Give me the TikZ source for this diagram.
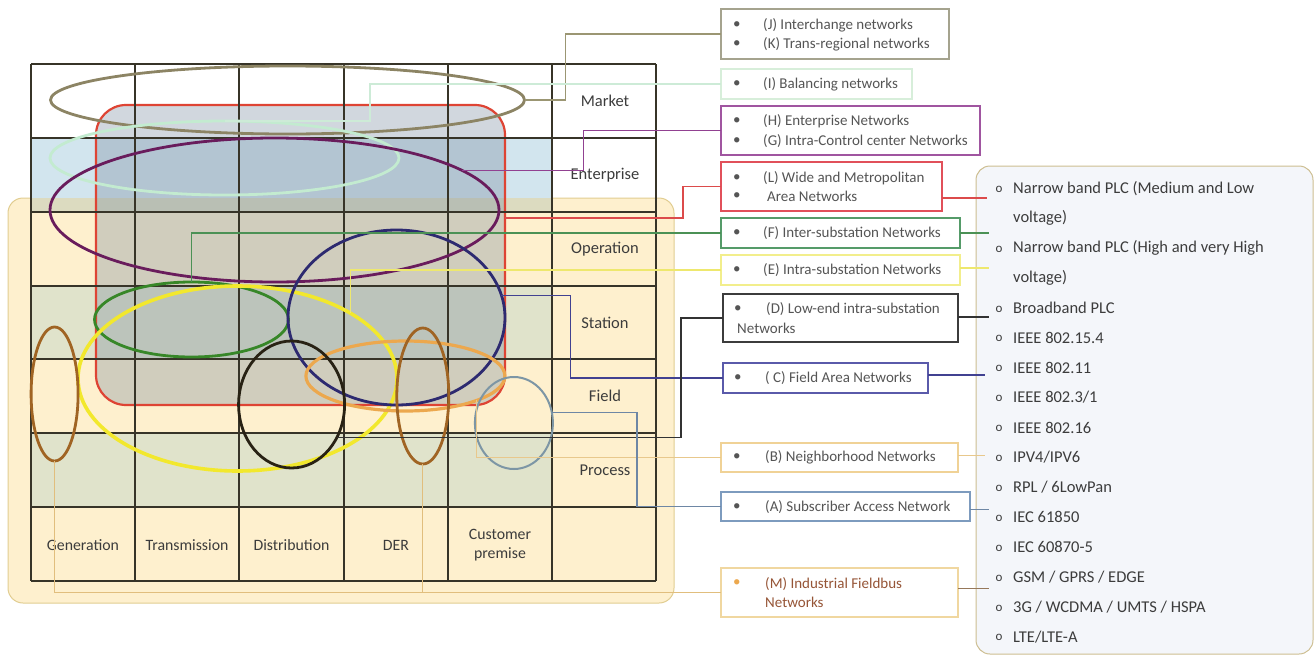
\documentclass[tikz,border=0pt]{standalone}
\usepackage{fontspec}
\setmainfont{Carlito}
\usetikzlibrary{shapes.geometric,calc}
\definecolor{beige}{RGB}{254,240,206}
\definecolor{beigeedge}{RGB}{225,205,145}
\definecolor{entblue}{RGB}{210,229,238}
\definecolor{entolive}{RGB}{220,219,192}
\definecolor{greentint}{RGB}{224,227,203}
\definecolor{redfill}{RGB}{120,138,158}
\definecolor{rededge}{RGB}{222,68,52}
\definecolor{gridc}{RGB}{55,52,40}
\definecolor{lbl}{RGB}{60,60,60}
\definecolor{txt}{RGB}{85,85,85}
\definecolor{txtM}{RGB}{150,85,55}
\definecolor{colJK}{RGB}{140,132,100}
\definecolor{colI}{RGB}{195,235,208}
\definecolor{colHG}{RGB}{105,28,92}
\definecolor{colF}{RGB}{55,135,40}
\definecolor{colE}{RGB}{242,232,45}
\definecolor{colC}{RGB}{45,42,112}
\definecolor{colD}{RGB}{40,34,20}
\definecolor{colB}{RGB}{236,168,78}
\definecolor{colM}{RGB}{160,100,35}
\definecolor{colA}{RGB}{125,150,165}
\definecolor{bdJK}{RGB}{165,163,142}
\definecolor{bdI}{RGB}{215,238,218}
\definecolor{bdHG}{RGB}{160,85,160}
\definecolor{bdL}{RGB}{225,80,90}
\definecolor{bdF}{RGB}{85,155,105}
\definecolor{bdE}{RGB}{242,238,140}
\definecolor{bdD}{RGB}{60,60,60}
\definecolor{bdC}{RGB}{90,90,170}
\definecolor{bdB}{RGB}{240,210,150}
\definecolor{bdA}{RGB}{125,155,190}
\definecolor{bdM}{RGB}{240,215,160}
\definecolor{kJK}{RGB}{155,150,115}
\definecolor{kI}{RGB}{205,235,215}
\definecolor{kHG}{RGB}{145,65,145}
\definecolor{kL}{RGB}{220,75,75}
\definecolor{kF}{RGB}{75,145,85}
\definecolor{kE}{RGB}{238,232,110}
\definecolor{kD}{RGB}{50,50,50}
\definecolor{kC}{RGB}{65,65,145}
\definecolor{kB}{RGB}{232,200,140}
\definecolor{kA}{RGB}{110,135,165}
\definecolor{kM}{RGB}{225,190,125}
\definecolor{kMr}{RGB}{150,120,90}
\definecolor{listfill}{RGB}{244,246,250}
\definecolor{listedge}{RGB}{205,190,145}
\begin{document}
\begin{tikzpicture}[x=1pt,y=-1pt,
  ell/.style={ellipse, inner sep=0pt, outer sep=0pt, line width=2.8pt},
  lbox/.style={rectangle, inner sep=0pt, outer sep=0pt, line width=1.2pt, fill=white},
  ltxt/.style={anchor=west, inner sep=0pt, text=txt, font=\fontsize{15}{17}\selectfont},
  rowlbl/.style={inner sep=0pt, text=lbl, font=\fontsize{16.5}{18}\selectfont},
  collbl/.style={inner sep=0pt, text=lbl, align=center, font=\fontsize{15.8}{19}\selectfont},
  gridln/.style={draw=gridc, line width=1.3pt},
  conn/.style={line width=1.2pt},
  litem/.style={anchor=west, inner sep=0pt, text=lbl, font=\fontsize{16.5}{18}\selectfont},
  lbul/.style={inner sep=0pt, text=lbl, font=\fontsize{13}{15}\selectfont}]
\useasboundingbox (0,0) rectangle (1314,656);
% background areas
\node[rectangle, rounded corners=15pt, minimum width=666pt, minimum height=405pt, fill=beige, draw=beigeedge, line width=1pt, inner sep=0pt] (bg) at (341,400.5) {};
\fill[entblue] (31,138) rectangle (552,198);
\fill[entolive] (31,198) rectangle (552,212);
\fill[greentint] (31,286) rectangle (552,359);
\fill[greentint] (31,433) rectangle (552,507);
% red rounded rectangle (L)
\node[rectangle, rounded corners=30pt, minimum width=409pt, minimum height=300pt, inner sep=0pt, outer sep=0pt, fill=redfill, fill opacity=0.34, draw=rededge, draw opacity=1, line width=2.2pt] (R) at (300.5,255) {};
% grid
\foreach \x in {31,135,239,344,448,552,656} \draw[gridln] (\x,64) -- (\x,581);
\foreach \y in {64,138,212,286,359,433,507,581} \draw[gridln] (31,\y) -- (656,\y);
% row labels
\node[rowlbl] (rMarket) at (605,101) {Market};
\node[rowlbl] (rEnterprise) at (605,175) {Enterprise};
\node[rowlbl] (rOperation) at (605,249) {Operation};
\node[rowlbl] (rStation) at (605,323) {Station};
\node[rowlbl] (rField) at (605,396) {Field};
\node[rowlbl] (rProcess) at (605,470) {Process};
% column labels
\node[collbl] (cGen) at (83,545) {Generation};
\node[collbl] (cTra) at (187,545) {Transmission};
\node[collbl] (cDis) at (291.5,545) {Distribution};
\node[collbl] (cDER) at (396,545) {DER};
\node[collbl] (cCus) at (500,545) {Customer\\premise};
% ellipses
\node[ell, draw=colJK, minimum width=474pt, minimum height=68pt] (JK) at (287.5,100) {};
\node[ell, draw=colI, minimum width=349pt, minimum height=74pt] (I) at (224.5,158) {};
\node[ell, draw=colHG, minimum width=449pt, minimum height=144pt] (HG) at (274.5,210) {};
\node[ell, draw=colF, minimum width=194pt, minimum height=75pt] (F) at (191.5,319.5) {};
\node[ell, draw=colE, line width=3.6pt, minimum width=319pt, minimum height=185pt] (E) at (237.5,378.5) {};
\node[ell, draw=colC, minimum width=217pt, minimum height=175pt] (C) at (396.5,317.5) {};
\node[ell, draw=colB, line width=3.2pt, minimum width=199pt, minimum height=70pt] (B) at (405.4,376) {};
\node[ell, draw=colD, minimum width=106pt, minimum height=127pt] (D) at (291.6,404.5) {};
\node[ell, draw=colM, minimum width=47pt, minimum height=134pt] (M1) at (54.6,394) {};
\node[ell, draw=colM, minimum width=52pt, minimum height=136pt] (M2) at (422.8,396) {};
\node[ell, draw=colA, line width=2pt, minimum width=78pt, minimum height=92pt] (A) at (513.9,423) {};
% legend boxes
\node[lbox, draw=bdJK, minimum width=228pt, minimum height=50pt] (bJK) at (835,34) {};
\node[lbox, draw=bdI, minimum width=191pt, minimum height=30pt] (bI) at (816.5,84) {};
\node[lbox, draw=bdHG, minimum width=259pt, minimum height=49pt] (bHG) at (850.5,130.5) {};
\node[lbox, draw=bdL, minimum width=221pt, minimum height=49pt] (bL) at (831.5,186.5) {};
\node[lbox, draw=bdF, minimum width=239pt, minimum height=30pt] (bF) at (840.5,233) {};
\node[lbox, draw=bdE, minimum width=239pt, minimum height=30pt] (bE) at (840.5,270) {};
\node[lbox, draw=bdD, minimum width=235pt, minimum height=48pt] (bD) at (840.5,318) {};
\node[lbox, draw=bdC, minimum width=205pt, minimum height=30pt] (bC) at (825.5,378) {};
\node[lbox, draw=bdB, minimum width=237pt, minimum height=29pt] (bB) at (839.5,457.5) {};
\node[lbox, draw=bdA, minimum width=249pt, minimum height=29pt] (bA) at (845.5,506.5) {};
\node[lbox, draw=bdM, minimum width=237pt, minimum height=49pt] (bM) at (839.5,592.5) {};
% legend texts
\node[ltxt] (tJ1) at (733,25) {•};
\node[ltxt] (tJ2) at (763,25) {(J) Interchange networks};
\node[ltxt] (tK1) at (733,44) {•};
\node[ltxt] (tK2) at (763,44) {(K) Trans-regional networks};
\node[ltxt] (tI1) at (733,84) {•};
\node[ltxt] (tI2) at (763,84) {(I) Balancing networks};
\node[ltxt] (tH1) at (733,121) {•};
\node[ltxt] (tH2) at (763,121) {(H) Enterprise Networks};
\node[ltxt] (tG1) at (733,141) {•};
\node[ltxt] (tG2) at (763,141) {(G) Intra-Control center Networks};
\node[ltxt] (tL1) at (733,178) {•};
\node[ltxt] (tL2) at (763,178) {(L) Wide and Metropolitan};
\node[ltxt] (tL3) at (733,196) {•};
\node[ltxt] (tL4) at (767,196) {Area Networks};
\node[ltxt] (tF1) at (733,233) {•};
\node[ltxt] (tF2) at (763,233) {(F) Inter-substation Networks};
\node[ltxt] (tE1) at (733,270) {•};
\node[ltxt] (tE2) at (763,270) {(E) Intra-substation Networks};
\node[ltxt] (tD1) at (734,309) {•};
\node[ltxt] (tD2) at (766,309) {(D) Low-end intra-substation};
\node[ltxt] (tD3) at (737,328) {Networks};
\node[ltxt] (tC1) at (734,378) {•};
\node[ltxt] (tC2) at (765,378) {( C) Field Area Networks};
\node[ltxt] (tB1) at (733,457) {•};
\node[ltxt] (tB2) at (765,457) {(B) Neighborhood Networks};
\node[ltxt] (tA1) at (733,507) {•};
\node[ltxt] (tA2) at (765,507) {(A) Subscriber Access Network};
\node[ltxt, text=colB] (tM1) at (733,583) {•};
\node[ltxt, text=txtM] (tM2) at (765,584) {(M) Industrial Fieldbus};
\node[ltxt, text=txtM] (tM3) at (765,602) {Networks};
% connectors ellipse -> legend
\draw[conn, kJK] (JK.east) -- ++(41,0) |- (bJK.west);
\draw[conn, kI] (I.north) -- ++(145.5,0) |- (bI.west);
\draw[conn, kHG] (HG.12) -- ++(122,0) |- (bHG.west);
\draw[conn, kL] ($(R.east)+(0,-37)$) -- ++(178,0) |- (bL.west);
\draw[conn, kF] (F.north) |- (bF.west);
\draw[conn, kE] (E.30) |- (bE.west);
\draw[conn, kC] (C.12) -- ++(69,0) |- (bC.west);
\draw[conn, kD] (D.-36) -- ++(344,0) |- (bD.west);
\draw[conn, kB] (B.-19) |- (bB.west);
\draw[conn, kA] (A.15) -- ++(85,0) |- (bA.west);
\draw[conn, kM] (M1.south) |- (bM.west);
\draw[conn, kM] (M2.south) |- (bM.west);
% technology list
\node[rectangle, rounded corners=14pt, minimum width=337pt, minimum height=488pt, inner sep=0pt, outer sep=0pt, fill=listfill, draw=listedge, line width=1pt] (rbox) at (1144.5,410) {};
\node[litem] (li0) at (1013,188.3) {Narrow band PLC (Medium and Low};
\node[litem] (li1) at (1013,218.2) {voltage)};
\node[litem] (li2) at (1013,248.1) {Narrow band PLC (High and very High};
\node[litem] (li3) at (1013,278.0) {voltage)};
\node[litem] (li4) at (1013,307.9) {Broadband PLC};
\node[litem] (li5) at (1013,337.8) {IEEE 802.15.4};
\node[litem] (li6) at (1013,367.7) {IEEE 802.11};
\node[litem] (li7) at (1013,397.6) {IEEE 802.3/1};
\node[litem] (li8) at (1013,427.5) {IEEE 802.16};
\node[litem] (li9) at (1013,457.4) {IPV4/IPV6};
\node[litem] (li10) at (1013,487.3) {RPL / 6LowPan};
\node[litem] (li11) at (1013,517.2) {IEC 61850};
\node[litem] (li12) at (1013,547.1) {IEC 60870-5};
\node[litem] (li13) at (1013,577.0) {GSM / GPRS / EDGE};
\node[litem] (li14) at (1013,606.9) {3G / WCDMA / UMTS / HSPA};
\node[litem] (li15) at (1013,636.8) {LTE/LTE-A};
\foreach \i in {0,2,4,5,6,7,8,9,10,11,12,13,14,15}
  \node[lbul] (lb\i) at (999,{188.3+29.9*\i+1}) {o};
% connectors legend -> list
\draw[conn, kL] ($(bL.east)+(0,11.5)$) -- ($(bL.east -| rbox.west)+(11,11.5)$);
\draw[conn, kF] (bF.east) -- ($(bF.east -| rbox.west)+(13,0)$);
\draw[conn, kE] ($(bE.east)+(0,-2)$) -- ($(bE.east -| rbox.west)+(13,-2)$);
\draw[conn, kD] ($(bD.east)+(0,-1)$) -- ($(bD.east -| rbox.west)+(13,-1)$);
\draw[conn, kC] ($(bC.east)+(0,-3)$) -- ($(bC.east -| rbox.west)+(9,-3)$);
\draw[conn, kB] ($(bB.east)+(0,-2)$) -- ($(bB.east -| rbox.west)+(9,-2)$);
\draw[conn, kA] ($(bA.east)+(0,3)$) -- ($(bA.east -| rbox.west)+(13,3)$);
\draw[conn, kMr] ($(bM.east)+(0,-4)$) -- ($(bM.east -| rbox.west)+(13,-4)$);
\end{tikzpicture}
\end{document}
